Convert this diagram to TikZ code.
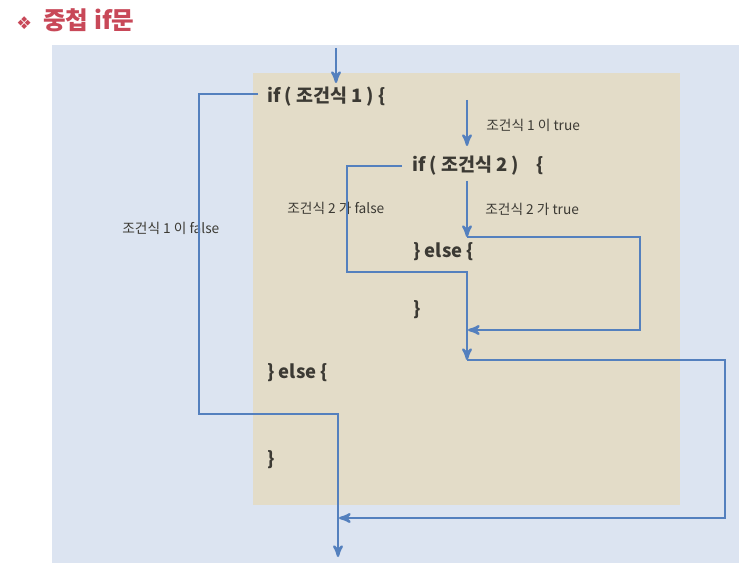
\documentclass[tikz,border=0pt]{standalone}
\usepackage{fontspec}
\setmainfont{Noto Sans CJK KR}
\newfontfamily\symfont{DejaVu Sans}
\usepackage{tikz}
\usetikzlibrary{arrows.meta,arrows}
\usetikzlibrary{positioning}
\definecolor{flowblue}{RGB}{84,128,190}
\definecolor{panelblue}{RGB}{220,228,241}
\definecolor{boxbeige}{RGB}{227,220,200}
\definecolor{codegray}{RGB}{60,58,52}
\definecolor{titlered}{RGB}{200,72,88}
\begin{document}
\begin{tikzpicture}[x=0.02cm,y=-0.02cm,>=stealth',semithick]
 \tikzstyle{code node}=[anchor=west,inner sep=1,text=codegray,font=\fontsize{10.5}{12}\selectfont\bfseries]
 \tikzstyle{cond node}=[anchor=west,inner sep=1,text=codegray,font=\fontsize{7.8}{9}\selectfont]
 \tikzstyle{title node}=[anchor=west,inner sep=1,text=titlered,font=\fontsize{14}{16}\selectfont\bfseries]
 \tikzset{
 	flow/.style={draw=flowblue,line width=1.3pt}
 }

 \useasboundingbox (0,0) rectangle (739,563);
 \fill[white] (0,0) rectangle (739,563);
 \fill[panelblue] (52,45) rectangle (739,563);
 \fill[boxbeige] (253,73) rectangle (680,505);

       \node[title node] (title) at (14,20) {{\symfont\fontsize{10}{11}\selectfont ❖}\ \ 중첩 if문};

       \node[code node] (if1) at (265,97) {if (\ 조건식 1\ ) \{};
       \node[code node] (if2) at (410,166) {if (\ 조건식 2\ ) \ \ \ \{};
       \node[code node] (else2) at (411,252) {\} else \{};
       \node[code node] (end2) at (411,310) {\}};
       \node[code node] (else1) at (265,373) {\} else \{};
       \node[code node] (end1) at (265,460) {\}};

       \node[cond node] (t1) at (484,125) {조건식 1 이 true};
       \node[cond node] (t2) at (483,209) {조건식 2 가 true};
       \node[cond node] (f2) at (285,208) {조건식 2 가 false};
       \node[cond node] (f1) at (120,228) {조건식 1 이 false};

       \coordinate (in) at (336,48);
       \coordinate (in end) at (336,83);
       \coordinate (t1 top) at (467,100);
       \coordinate (t1 end) at (467,146);
       \coordinate (f1 a) at (258,94);
       \coordinate (f1 b) at (199,94);
       \coordinate (f1 c) at (199,414);
       \coordinate (f1 d) at (338,414);
       \coordinate (out) at (338,557);
       \coordinate (f2 a) at (402,166);
       \coordinate (f2 b) at (347,166);
       \coordinate (f2 c) at (347,272);
       \coordinate (f2 d) at (467,272);
       \coordinate (join) at (467,360);
       \coordinate (t2 top) at (467,181);
       \coordinate (t2 end) at (467,237);
       \coordinate (t2 b) at (640,237);
       \coordinate (t2 c) at (640,330);
       \coordinate (t2 back) at (468,330);
       \coordinate (j b) at (725,360);
       \coordinate (j c) at (725,518);
       \coordinate (j back) at (339,518);

     \draw[flow,->] (in) -- (in end);
     \draw[flow,->] (t1 top) -- (t1 end);
     \draw[flow,->] (t2 top) -- (t2 end);
     \draw[flow,->] (f1 a) -- (f1 b) -- (f1 c) -- (f1 d) -- (out);
     \draw[flow,->] (f2 a) -- (f2 b) -- (f2 c) -- (f2 d) -- (join);
     \draw[flow,->] (t2 end) -- (t2 b) -- (t2 c) -- (t2 back);
     \draw[flow,->] (join) -- (j b) -- (j c) -- (j back);
 \end{tikzpicture}
\end{document}
